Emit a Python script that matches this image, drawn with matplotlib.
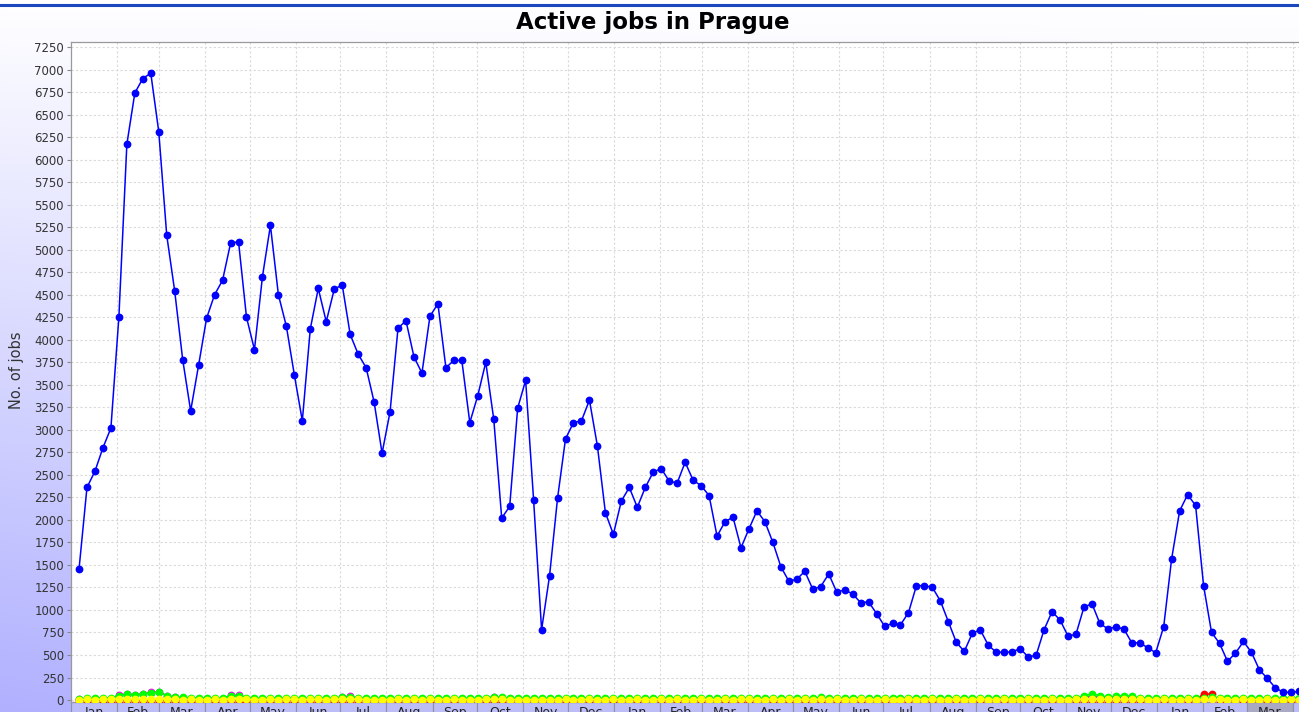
"""
Active jobs in Prague - sampled job counts over ~2.3 years with a few minor series.
"""

import datetime as dt
import numpy as np
import matplotlib
matplotlib.use("Agg")
import matplotlib.pyplot as plt
import matplotlib.dates as mdates
from matplotlib.patches import Rectangle
from matplotlib.lines import Line2D
from matplotlib.transforms import blended_transform_factory

TITLE = "Active jobs in Prague"
Y_LABEL = "No. of jobs"
FIRST_SAMPLE = dt.datetime(2010, 1, 6, 9)
SAMPLE_DAYS = 5.36
AXIS_START = dt.datetime(2010, 1, 1)
AXIS_DAYS = 830
Y_TICKS = list(range(0, 7251, 250))

active = [
    1450, 2360, 2540, 2800, 3020, 4250, 6170, 6740, 6900, 6960, 6310,
    5160, 4540, 3780, 3210, 3720, 4240, 4500, 4660, 5070, 5090, 4250,
    3890, 4700, 5270, 4500, 4150, 3610, 3100, 4120, 4570, 4200, 4560,
    4610, 4060, 3840, 3690, 3310, 2740, 3200, 4130, 4210, 3810, 3630,
    4260, 4400, 3690, 3770, 3770, 3080, 3380, 3750, 3120, 2020, 2150,
    3240, 3550, 2220, 780, 1380, 2240, 2900, 3080, 3100, 3330, 2820,
    2080, 1840, 2210, 2360, 2140, 2360, 2530, 2570, 2430, 2410, 2640,
    2440, 2380, 2270, 1820, 1980, 2030, 1690, 1900, 2100, 1980, 1750,
    1480, 1320, 1340, 1430, 1230, 1260, 1400, 1200, 1220, 1180, 1080,
    1090, 960, 820, 850, 835, 970, 1270, 1270, 1250, 1100, 870,
    640, 540, 740, 780, 610, 530, 530, 535, 570, 480, 495,
    780, 980, 890, 710, 730, 1030, 1070, 850, 790, 810, 790,
    635, 635, 580, 525, 815, 1570, 2100, 2280, 2160, 1270, 750,
    630, 430, 520, 650, 530, 335, 240, 135, 85, 85, 95,
]

green = [
    15, 20, 20, 25, 25, 50, 63, 55, 67, 81, 85,
    48, 35, 30, 25, 25, 20, 25, 20, 48, 48, 25,
    20, 20, 25, 20, 25, 25, 20, 25, 25, 20, 25,
    30, 37, 25, 20, 20, 20, 20, 25, 20, 25, 20,
    25, 20, 20, 25, 20, 20, 20, 25, 35, 30, 20,
    20, 20, 20, 20, 20, 20, 25, 20, 20, 25, 20,
    20, 25, 20, 20, 25, 20, 20, 25, 20, 25, 20,
    20, 25, 20, 20, 25, 20, 25, 25, 20, 20, 25,
    20, 25, 20, 25, 20, 30, 20, 25, 20, 20, 25,
    20, 20, 25, 20, 20, 25, 20, 20, 25, 20, 20,
    25, 20, 20, 25, 20, 20, 25, 20, 20, 25, 20,
    20, 25, 20, 20, 25, 45, 70, 50, 30, 40, 50,
    40, 25, 20, 20, 25, 20, 20, 25, 20, 25, 30,
    25, 20, 20, 25, 20, 20, 25, 20, 20, 25, 20,
]

magenta = [
    10, 12, 12, 15, 15, 55, 70, 58, 70, 85, 90,
    50, 30, 20, 15, 15, 12, 15, 12, 52, 52, 15,
    12, 12, 15, 12, 15, 15, 12, 15, 15, 12, 15,
    35, 42, 15, 12, 12, 12, 12, 15, 12, 15, 12,
    15, 12, 12, 15, 12, 12, 12, 15, 38, 20, 12,
    12, 12, 12, 12, 12, 12, 15, 12, 12, 15, 12,
    12, 15, 12, 12, 15, 12, 12, 15, 12, 15, 12,
    12, 15, 12, 12, 15, 12, 15, 15, 12, 12, 15,
    12, 15, 12, 15, 12, 15, 12, 15, 12, 12, 15,
    12, 12, 15, 12, 12, 15, 12, 12, 15, 12, 12,
    15, 12, 12, 15, 12, 12, 15, 12, 12, 15, 12,
    12, 15, 12, 12, 15, 30, 40, 30, 15, 25, 30,
    25, 15, 12, 12, 15, 12, 12, 15, 12, 15, 15,
    15, 12, 12, 15, 12, 12, 15, 12, 12, 15, 12,
]

yellow = [
    5, 6, 5, 7, 6, 8, 9, 8, 9, 10, 10,
    7, 6, 5, 6, 5, 5, 6, 5, 8, 8, 6,
    5, 5, 6, 5, 6, 6, 5, 6, 6, 5, 6,
    7, 7, 6, 5, 5, 5, 5, 6, 5, 6, 5,
    6, 5, 5, 6, 5, 5, 5, 6, 7, 6, 5,
    5, 5, 5, 4, 5, 5, 6, 5, 5, 6, 5,
    5, 6, 5, 5, 6, 5, 5, 6, 5, 6, 5,
    5, 6, 5, 5, 6, 5, 6, 6, 5, 5, 6,
    5, 6, 5, 6, 5, 6, 5, 6, 5, 5, 6,
    5, 5, 6, 5, 5, 6, 5, 5, 6, 5, 5,
    6, 5, 5, 6, 5, 5, 6, 5, 5, 6, 5,
    5, 6, 5, 5, 6, 7, 8, 7, 6, 6, 7,
    6, 6, 5, 5, 6, 5, 5, 6, 5, 6, 6,
    6, 5, 5, 6, 5, 5, 6, 5, 5, 6, 5,
]

red = [
    0, 0, 0, 0, 0, 0, 0, 0, 0, 0, 0,
    0, 0, 0, 0, 0, 0, 0, 0, 0, 0, 0,
    0, 0, 0, 0, 0, 0, 0, 0, 0, 0, 0,
    0, 0, 0, 0, 0, 0, 0, 0, 0, 0, 0,
    0, 0, 0, 0, 0, 0, 0, 0, 0, 0, 0,
    0, 0, 0, 0, 0, 0, 0, 0, 0, 0, 0,
    0, 0, 0, 0, 0, 0, 0, 0, 0, 0, 0,
    0, 0, 0, 0, 0, 0, 0, 0, 0, 0, 0,
    0, 0, 0, 0, 0, 0, 0, 0, 0, 0, 0,
    0, 0, 0, 0, 0, 0, 0, 0, 0, 0, 0,
    0, 0, 0, 0, 0, 0, 0, 0, 0, 0, 0,
    0, 0, 0, 0, 0, 0, 0, 0, 0, 0, 0,
    0, 0, 0, 0, 0, 0, 0, 0, 0, 70, 65,
    0, 0, 0, 0, 0, 0, 0, 0, 0, 0, 0,
]

W, H = 1299, 712
PX_PER_DAY = 1.488

fig = plt.figure(figsize=(W / 100, H / 100), dpi=100)

# background gradient: white at the top right, lavender toward bottom left
yf = np.linspace(0, 1, H)[:, None]
xf = np.linspace(0, 1, W)[None, :]
t = np.clip(yf * (1.0 - 0.35 * xf), 0, 1)[..., None]
top_col = np.array([1.0, 1.0, 1.0])
bot_col = np.array([176, 176, 255]) / 255
bg = top_col * (1 - t) + bot_col * t
bg[:4] = 1.0
bg_ax = fig.add_axes([0, 0, 1, 1], zorder=-10)
bg_ax.imshow(bg, aspect="auto", extent=(0, 1, 0, 1))
bg_ax.axis("off")

fig.add_artist(Line2D([0, 1], [1 - 5 / H] * 2, color="#1a46c0", lw=2.2))

ax_w = AXIS_DAYS * PX_PER_DAY
ax = fig.add_axes([71 / W, 10 / H, ax_w / W, 660 / H])
ax.set_facecolor("white")

x0 = mdates.date2num(FIRST_SAMPLE)
x = x0 + np.arange(len(active)) * SAMPLE_DAYS
xmin = mdates.date2num(AXIS_START)

mk = dict(marker="o", markersize=4.6, linewidth=1.1)
ax.plot(x, magenta, color="#ff00ff", **mk, zorder=3)
ax.plot(x, red, color="#ff0000", **mk, zorder=3)
ax.plot(x, green, color="#00ff00", **mk, zorder=4)
ax.plot(x, yellow, color="#ffff00", **mk, zorder=5)
ax.plot(x, active, color="#0000ff", **mk, zorder=6)

# month boundaries for the grid and the label band
month_starts = []
d = AXIS_START
while d <= AXIS_START + dt.timedelta(days=AXIS_DAYS + 40):
    month_starts.append(d)
    d = dt.datetime(d.year + (d.month // 12), d.month % 12 + 1, 1)
month_nums = [mdates.date2num(m) for m in month_starts]

ax.set_xticks(month_nums[1:])
ax.set_xticklabels([])
ax.tick_params(axis="x", length=0)
ax.set_yticks(Y_TICKS)
ax.tick_params(axis="y", labelsize=8.5, length=3, width=0.8, color="#888888",
               pad=2, labelcolor="#333333")
ax.grid(True, color="#d9d9d9", linestyle=(0, (2, 2)), linewidth=0.8)
ax.set_axisbelow(True)
# limits last: set_xticks widens the view to include every tick
ax.set_xlim(xmin, xmin + AXIS_DAYS)
ax.set_ylim(-22, 7306)

ax.spines["right"].set_visible(False)
for side in ["left", "top", "bottom"]:
    ax.spines[side].set_color("#999999")
    ax.spines[side].set_linewidth(0.9)

band = blended_transform_factory(ax.transData, ax.transAxes)
for a, b, m in zip(month_nums[:-1], month_nums[1:], month_starts[:-1]):
    last = (m.year, m.month) == (2012, 3)
    ax.add_patch(Rectangle((a, -0.03), b - a, 0.03, transform=band, clip_on=False,
                           facecolor="#a9a9c4" if last else "#bcbcf7",
                           edgecolor="#8f8fa8", linewidth=0.8, zorder=1))
    ax.text((a + b) / 2, -4 / 660, m.strftime("%b"), transform=band, ha="center",
            va="top", fontsize=9, color="#222222", clip_on=False)

fig.text(653 / W, 1 - 22 / H, TITLE, ha="center", va="center",
         fontsize=16.5, fontweight="bold")
fig.text(17 / W, 1 - 370 / H, Y_LABEL, rotation=90, ha="center", va="center",
         fontsize=10.5, color="#333333")

fig.savefig("out.png", dpi=100)
